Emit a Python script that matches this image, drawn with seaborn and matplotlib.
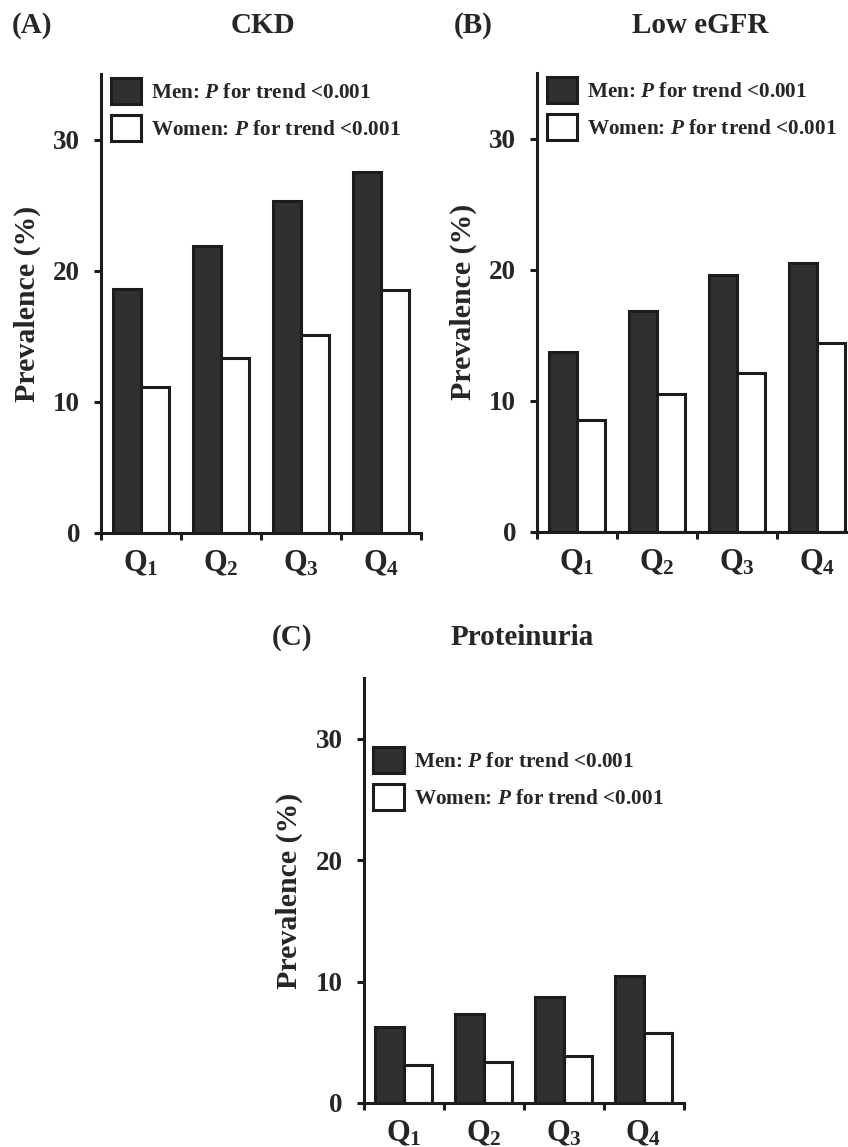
import pandas as pd
import seaborn as sns
import matplotlib.pyplot as plt

quartiles = ['Q1', 'Q2', 'Q3', 'Q4']
q_labels = [r'$\mathbf{Q_1}$', r'$\mathbf{Q_2}$', r'$\mathbf{Q_3}$', r'$\mathbf{Q_4}$']

ckd_men = [18.6, 21.9, 25.3, 27.5]
ckd_women = [11.1, 13.3, 15.1, 18.5]
egfr_men = [13.7, 16.8, 19.6, 20.5]
egfr_women = [8.5, 10.5, 12.1, 14.4]
prot_men = [6.3, 7.3, 8.7, 10.5]
prot_women = [3.1, 3.4, 3.9, 5.8]

legend_labels = [r'Men: $\mathit{P}$ for trend <0.001', r'Women: $\mathit{P}$ for trend <0.001']

sns.set_style('white')
plt.rcParams['font.family'] = ['Liberation Serif', 'DejaVu Serif']
plt.rcParams['font.weight'] = 'bold'
plt.rcParams['mathtext.fontset'] = 'custom'
plt.rcParams['mathtext.rm'] = 'Liberation Serif:bold'
plt.rcParams['mathtext.bf'] = 'Liberation Serif:bold'
plt.rcParams['mathtext.it'] = 'Liberation Serif:italic:bold'

dark = '#2f3030'
edge = '#1c1c1c'


def make_df(men, women):
    return pd.DataFrame({
        'Quartile': quartiles * 2,
        'Prevalence': men + women,
        'Sex': ['Men'] * 4 + ['Women'] * 4,
    })


def draw(ax, men, women, leg_y):
    df = make_df(men, women)
    sns.barplot(data=df, x='Quartile', y='Prevalence', hue='Sex', ax=ax,
                palette={'Men': dark, 'Women': 'white'}, width=0.71, gap=0,
                edgecolor=edge, linewidth=2.2, saturation=1, errorbar=None)
    ax.set_ylim(0, 35)
    ax.set_xlim(-0.5, 3.5)
    ax.set_yticks([0, 10, 20, 30])
    ax.set_yticklabels(['0', '10', '20', '30'], fontsize=19.5, fontweight='bold')
    ax.set_xticks([-0.5, 0.5, 1.5, 2.5, 3.5])
    ax.set_xticklabels([])
    ax.set_xticks([0, 1, 2, 3], minor=True)
    ax.set_xticklabels(q_labels, minor=True, fontsize=22)
    ax.tick_params(axis='x', which='major', direction='out', length=5, width=2.2, color=edge, bottom=True)
    ax.tick_params(axis='x', which='minor', length=0, pad=12)
    ax.tick_params(axis='y', direction='out', length=5, width=2.2, color=edge, left=True, pad=10)
    ax.set_xlabel('')
    ax.set_ylabel('Prevalence (%)', fontsize=21.5, fontweight='bold', labelpad=9)
    sns.despine(ax=ax)
    for s in ['left', 'bottom']:
        ax.spines[s].set_linewidth(2.2)
        ax.spines[s].set_color(edge)
    handles, _ = ax.get_legend_handles_labels()
    ax.legend(handles, legend_labels, loc='upper left', bbox_to_anchor=(0.03, leg_y),
              frameon=False, fontsize=15.3, handlelength=1.45, handleheight=1.5,
              handletextpad=0.45, labelspacing=0.5, borderpad=0, borderaxespad=0)


fig = plt.figure(figsize=(8.48, 11.47), dpi=100)
ax_a = fig.add_axes([0.1191, 0.5356, 0.3774, 0.3997])
ax_b = fig.add_axes([0.6333, 0.5366, 0.3774, 0.3997])
ax_c = fig.add_axes([0.4287, 0.0384, 0.3774, 0.3702])

draw(ax_a, ckd_men, ckd_women, 0.991)
draw(ax_b, egfr_men, egfr_women, 0.991)
draw(ax_c, prot_men, prot_women, 0.838)

kw = dict(fontsize=21, fontweight='bold', ha='center', va='center')
fig.text(0.0383, 0.9782, '(A)', **kw)
fig.text(0.3095, 0.9782, 'CKD', **kw)
fig.text(0.5578, 0.9782, '(B)', **kw)
fig.text(0.8255, 0.9782, 'Low eGFR', **kw)
fig.text(0.3449, 0.4446, '(C)', **kw)
fig.text(0.6152, 0.4446, 'Proteinuria', **kw)

fig.savefig('out.png', dpi=100)
